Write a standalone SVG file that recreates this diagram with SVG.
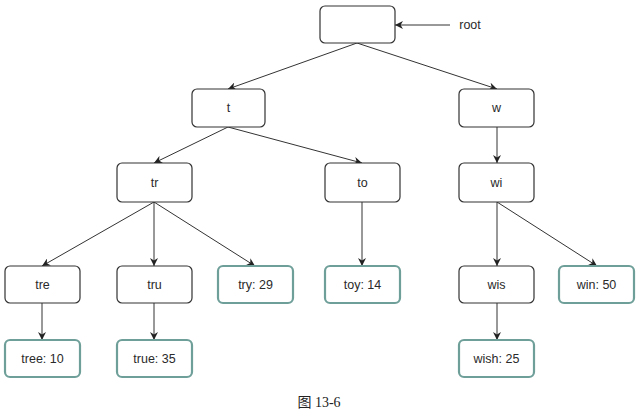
<svg xmlns="http://www.w3.org/2000/svg" width="640" height="415" viewBox="0 0 640 415">
<defs>
<marker id="ah" viewBox="0 0 10 10" refX="10" refY="5" markerWidth="8" markerHeight="8" markerUnits="userSpaceOnUse" orient="auto">
<path d="M0,0 L10,5 L0,10 L3,5 z" fill="#222"/>
</marker>
<style>
.n rect{fill:#fff;stroke:#333;stroke-width:1.2}
.l rect{fill:#fff;stroke:#6f9f99;stroke-width:2.2}
text{font-family:"Liberation Sans",Arial,sans-serif;font-size:12.5px;fill:#2a2a2a;text-anchor:middle}
.c line{stroke:#333;stroke-width:1;marker-end:url(#ah)}
</style>
</defs>
<rect width="640" height="415" fill="#fff"/>
<g class="c" id="connectors">
<line x1="357" y1="43" x2="228" y2="89"/>
<line x1="357" y1="43" x2="497" y2="89"/>
<line x1="450" y1="25" x2="395" y2="25"/>
<line x1="228" y1="127" x2="154" y2="163"/>
<line x1="228" y1="127" x2="362" y2="163"/>
<line x1="497" y1="127" x2="497" y2="163"/>
<line x1="154" y1="202" x2="42" y2="266"/>
<line x1="154" y1="202" x2="154" y2="266"/>
<line x1="154" y1="202" x2="255" y2="266"/>
<line x1="362" y1="202" x2="362" y2="266"/>
<line x1="497" y1="202" x2="497" y2="266"/>
<line x1="497" y1="202" x2="597" y2="266"/>
<line x1="42" y1="303" x2="42" y2="340"/>
<line x1="154" y1="303" x2="154" y2="340"/>
<line x1="497" y1="303" x2="497" y2="340"/>
</g>
<g id="root" class="n"><rect x="320" y="6" width="75" height="37" rx="5"/></g>
<text id="root-label" x="470" y="29">root</text>
<g id="t" class="n"><rect x="192" y="89" width="73" height="38" rx="5"/><text x="228.5" y="112">t</text></g>
<g id="w" class="n"><rect x="459" y="89" width="75" height="38" rx="5"/><text x="496.5" y="112">w</text></g>
<g id="tr" class="n"><rect x="117" y="163" width="75" height="39" rx="5"/><text x="154.5" y="187">tr</text></g>
<g id="to" class="n"><rect x="325" y="163" width="75" height="39" rx="5"/><text x="362.5" y="187">to</text></g>
<g id="wi" class="n"><rect x="459" y="163" width="75" height="39" rx="5"/><text x="496.5" y="187">wi</text></g>
<g id="tre" class="n"><rect x="5" y="266" width="75" height="37" rx="5"/><text x="42.5" y="289">tre</text></g>
<g id="tru" class="n"><rect x="117" y="266" width="75" height="37" rx="5"/><text x="154.5" y="289">tru</text></g>
<g id="try" class="l"><rect x="218" y="266" width="75" height="37" rx="5"/><text x="255.5" y="289">try: 29</text></g>
<g id="toy" class="l"><rect x="325" y="266" width="75" height="37" rx="5"/><text x="362.5" y="289">toy: 14</text></g>
<g id="wis" class="n"><rect x="459" y="266" width="75" height="37" rx="5"/><text x="496.5" y="289">wis</text></g>
<g id="win" class="l"><rect x="559" y="266" width="75" height="37" rx="5"/><text x="596.5" y="289">win: 50</text></g>
<g id="tree" class="l"><rect x="5" y="340" width="75" height="37" rx="5"/><text x="42.5" y="363">tree: 10</text></g>
<g id="true" class="l"><rect x="117" y="340" width="75" height="37" rx="5"/><text x="154.5" y="363">true: 35</text></g>
<g id="wish" class="l"><rect x="459" y="340" width="75" height="37" rx="5"/><text x="496.5" y="363">wish: 25</text></g>
<text x="319" y="407" style="font-family:'Liberation Serif','Noto Sans CJK SC',serif;font-size:14px;fill:#222">图 13-6</text>
</svg>
